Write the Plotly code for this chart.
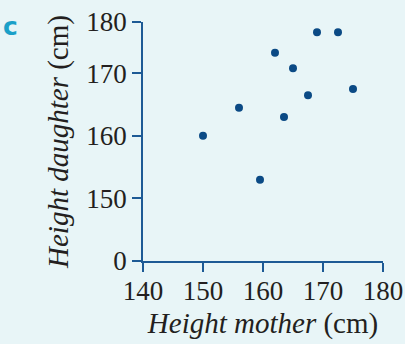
import plotly.graph_objects as go

# Data
mother = [150, 156, 159.5, 162, 163.5, 165, 167.5, 169, 172.5, 175]
daughter = [160, 164.5, 153, 174, 163, 171, 166.5, 178, 178, 167.5]
x_ticks = [140, 150, 160, 170, 180]
y_ticks = [0, 150, 160, 170, 180]


def axis_pos(h):
    # broken y axis: 0 sits one step below 150; top segment drawn slightly compressed
    if h < 145:
        return 140
    if h <= 170:
        return h
    return 170 + (h - 170) * 0.82


y_plot = [axis_pos(v) for v in daughter]
y_tickpos = [axis_pos(v) for v in y_ticks]

BG = "#e8f5f7"
AX = "#1d5a95"
MK = "#0b4a85"
FONT = "Liberation Serif"
FS = 27
TS = 29

L, R, T, B = 143, 22, 22, 83
PW = 405 - L - R
PH = 344 - T - B

fig = go.Figure()
fig.add_trace(go.Scatter(
    x=mother, y=y_plot, mode="markers",
    marker=dict(color=MK, size=8, line=dict(width=0)),
    cliponaxis=False, showlegend=False,
))

fig.update_layout(
    width=405, height=344,
    margin=dict(l=L, r=R, t=T, b=B, autoexpand=False),
    paper_bgcolor=BG, plot_bgcolor=BG,
    font=dict(family=FONT, color="#231f20", size=FS),
    xaxis=dict(
        range=[140, 180], tickvals=x_ticks, ticktext=[str(v) for v in x_ticks],
        showgrid=False, zeroline=False, showline=True, linecolor=AX, linewidth=1.5,
        ticks="outside", ticklen=9, tickcolor=AX, tickwidth=1.5, automargin=False,
        ticklabelstandoff=-4,
        tickfont=dict(size=FS, family=FONT, color="#231f20"),
        title=dict(text="<i>Height mother</i> (cm)", font=dict(size=TS, family=FONT), standoff=8),
    ),
    yaxis=dict(
        range=[140, axis_pos(180)], tickvals=y_tickpos, ticktext=[str(v) for v in y_ticks],
        showgrid=False, zeroline=False, showline=True, linecolor=AX, linewidth=1.5,
        ticks="outside", ticklen=9, tickcolor=AX, tickwidth=1.5, automargin=False,
        tickfont=dict(size=FS, family=FONT, color="#231f20"),
        title=dict(text="<i>Height daughter</i> (cm)", font=dict(size=TS, family=FONT), standoff=9),
    ),
)

fig.add_annotation(
    text="<b>c</b>", x=(1 - L) / PW, y=(344 - B - 10) / PH,
    xref="paper", yref="paper", showarrow=False, xanchor="left", yanchor="top",
    font=dict(family="DejaVu Sans", size=25, color="#1aa0c8"),
)

fig.write_html("out.html")
